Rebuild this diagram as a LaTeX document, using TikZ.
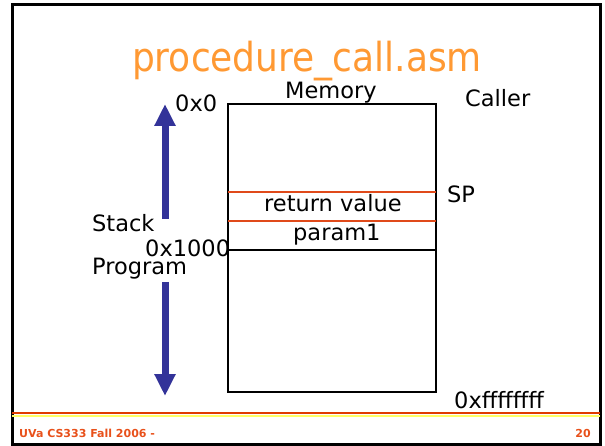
\documentclass[tikz,border=0pt]{standalone}
\usepackage{fontspec}
\setmainfont{DejaVu Sans}
\newfontfamily\titlefont[FakeStretch=0.9]{DejaVu Sans}
\usetikzlibrary{arrows.meta}
\definecolor{titleorange}{HTML}{FF9933}
\definecolor{footred}{HTML}{E8501A}
\definecolor{rulered}{HTML}{E03C00}
\definecolor{ruleyellow}{HTML}{FFFF66}
\definecolor{cellred}{HTML}{E04A1A}
\definecolor{arrowblue}{HTML}{333399}
\tikzset{
  lbl/.style={anchor=base west, inner sep=0pt, font=\fontsize{22.5}{26}\selectfont},
  foot/.style={inner sep=0pt, text=footred, font=\fontsize{11}{13}\selectfont\bfseries},
  bigarrow/.style={draw=arrowblue, line width=7pt, -{Triangle[length=22pt,width=20pt]}},
  memline/.style={line width=1.6pt},
  cellline/.style={draw=cellred, line width=1.6pt}
}
\begin{document}
\begin{tikzpicture}[x=1pt,y=-1pt]
\useasboundingbox (0,0) rectangle (605,446);
% slide frame
\draw[line width=3pt] (12,5) rectangle (600,444);
\draw[rulered, line width=2.2pt] (12,413) -- (600,413);
\draw[ruleyellow, line width=2.2pt] (12,416) -- (600,416);
% title
\node[anchor=base, inner sep=0pt, text=titleorange, font=\titlefont\fontsize{40}{44}\selectfont] (title) at (307,72) {procedure\_call.asm};
% memory box
\coordinate (mtl) at (228,104);
\coordinate (mbr) at (436,392);
\draw[memline] (mtl) rectangle (mbr);
\coordinate (r1l) at (228,192); \coordinate (r1r) at (436,192);
\coordinate (r2l) at (228,221); \coordinate (r2r) at (436,221);
\coordinate (b1l) at (228,250); \coordinate (b1r) at (436,250);
\draw[cellline] (r1l) -- (r1r);
\draw[cellline] (r2l) -- (r2r);
\draw[memline] (b1l) -- (b1r);
% labels
\node[lbl] (memory) at (285,99) {Memory};
\node[lbl] (caller) at (465,107) {Caller};
\node[lbl] (zero) at (175,112) {0x0};
\node[lbl] (sp) at (447,203) {SP};
\node[lbl] (ret) at (264,212) {return value};
\node[lbl] (param) at (293,241) {param1};
\node[lbl] (stack) at (92,232) {Stack};
\node[lbl] (thousand) at (145,257) {0x1000};
\node[lbl] (program) at (92,275) {Program};
\node[lbl] (top) at (454,408) {0xffffffff};
% arrows
\coordinate (upbase) at (165,219);
\coordinate (uptip) at (165,104);
\draw[bigarrow] (upbase) -- (uptip);
\coordinate (dnbase) at (165,282);
\coordinate (dntip) at (165,396);
\draw[bigarrow] (dnbase) -- (dntip);
% footer
\node[foot, anchor=base west] (course) at (19,437) {UVa CS333 Fall 2006 -};
\node[foot, anchor=base east] (page) at (591,437) {20};
\end{tikzpicture}
\end{document}
